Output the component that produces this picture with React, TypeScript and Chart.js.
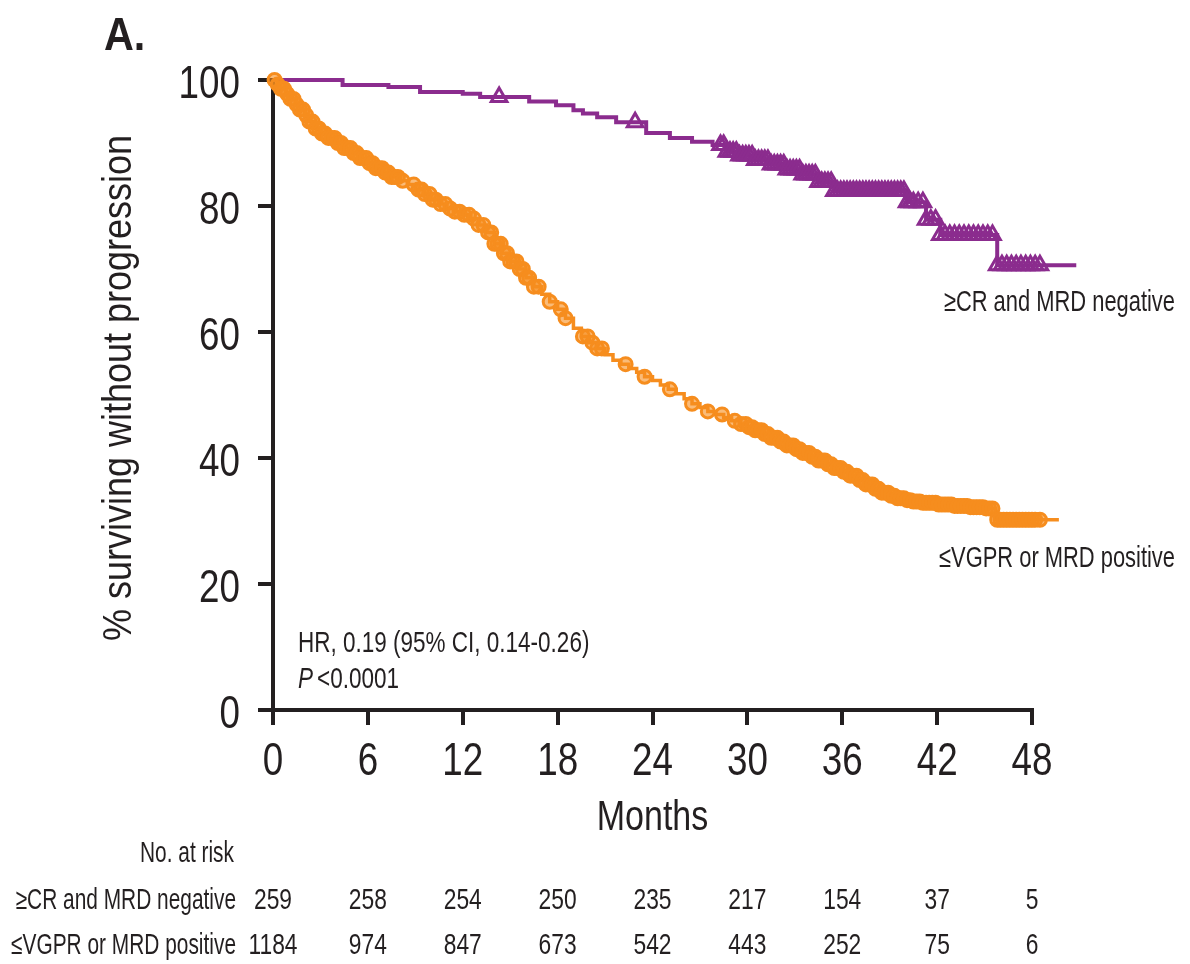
import React, { useEffect, useRef } from 'react';
import { Chart, registerables } from 'chart.js';

Chart.register(...registerables);

const FONT = "'Liberation Sans', Arial, sans-serif";
const INK = '#231f20';
const ORANGE = '#f68d1e';
const PURPLE = '#8b2c8e';

// Months shown on the x axis and used for the number-at-risk table
const monthTicks = [0, 6, 12, 18, 24, 30, 36, 42, 48];

// Number at risk per group
const riskGroupLabels = ['\u2265CR and MRD negative', '\u2264VGPR or MRD positive'];
const atRiskNegative = [259, 258, 254, 250, 235, 217, 154, 37, 5];
const atRiskPositive = [1184, 974, 847, 673, 542, 443, 252, 75, 6];

// Kaplan-Meier step points: >=CR and MRD negative
const negMonths = [0, 4.4, 7.3, 9.3, 12.0, 13.1, 16.2, 17.9, 19.0, 19.6, 20.5, 21.7, 23.6, 25.1, 26.5, 27.8, 28.7, 29.5, 30.5, 31.5, 32.5, 33.5, 34.5, 35.5, 40.1, 41.3, 42.2, 45.8, 50.8];
const negSurvival = [100, 99.2, 98.9, 98.1, 97.8, 97.3, 96.6, 96.0, 95.2, 94.7, 94.1, 93.3, 91.6, 90.8, 90.2, 89.7, 88.6, 88.0, 87.3, 86.6, 85.8, 85.0, 83.8, 82.4, 80.6, 77.8, 75.4, 70.6, 70.6];
// Censoring times (triangles)
const negCensored = [14.3, 22.9, 28.3, 28.5, 28.7, 28.9, 29.1, 29.3, 29.5, 29.7, 29.9, 30.1, 30.3, 30.5,
  30.7, 30.9, 31.1, 31.3, 31.5, 31.7, 31.9, 32.1, 32.3, 32.5, 32.7, 32.9, 33.1, 33.3, 33.5, 33.7,
  33.9, 34.1, 34.3, 34.5, 34.7, 34.9, 35.1, 35.3, 35.5, 35.7, 35.9, 36.1, 36.3, 36.5, 36.7, 36.9,
  37.1, 37.3, 37.5, 37.7, 37.9, 38.1, 38.3, 38.5, 38.7, 38.9, 39.1, 39.3, 39.5, 39.7, 39.9, 40.1,
  40.3, 40.5, 40.8, 41.1, 41.3, 41.6, 41.9, 42.2, 42.5, 42.8, 43.1, 43.4, 43.7, 44.0, 44.3, 44.6,
  44.9, 45.2, 45.5, 45.8, 46.1, 46.4, 46.7, 47.0, 47.3, 47.6, 47.9, 48.2, 48.5, 49.7, 50.0, 50.3,
  50.6, 50.8];

// Kaplan-Meier step points: <=VGPR or MRD positive
const posMonths = [0, 0.25, 0.5, 0.8, 1.1, 1.4, 1.7, 2.0, 2.3, 2.6,
  3.0, 3.5, 4.0, 4.5, 5.0, 5.5, 6.0, 6.5, 7.0, 7.5, 8.0, 8.5, 9.0, 9.5, 10.0,
  10.5, 11.0, 11.5, 12.0, 12.5, 13.0, 13.5, 14.0, 14.5, 15.0,
  15.5, 16.0, 16.5, 17.0, 17.5, 18.0, 18.5, 19.0, 19.5, 20.0,
  20.5, 21.0, 21.5, 22.0, 22.5, 23.0, 23.5, 24.0, 24.5, 25.0,
  25.5, 26.0, 26.5, 27.0, 27.5, 28.0, 28.5, 29.0, 29.5, 30.0,
  30.5, 31.0, 31.5, 32.0, 32.5, 33.0, 33.5, 34.0, 34.5, 35.0,
  35.5, 36.0, 36.5, 37.0, 37.5, 38.0, 38.5, 39.0, 39.5, 40.0,
  40.5, 41.0, 42.0, 43.0, 44.0, 45.0, 45.7, 49.7];
const posSurvival = [100, 99.3, 98.6, 97.8, 97.0, 96.1, 95.3, 94.4, 93.4, 92.3,
  91.5, 90.8, 90.0, 89.2, 88.4, 87.6, 86.8, 86.0, 85.3, 84.6, 84.0, 83.4, 82.6, 81.9, 81.0,
  80.3, 79.6, 79.1, 78.6, 78.0, 77.0, 75.8, 74.0, 72.5, 71.2,
  70.0, 68.6, 67.2, 66.0, 64.8, 63.6, 62.2, 60.6, 59.3, 58.3,
  57.4, 56.4, 55.5, 54.9, 54.2, 53.6, 52.9, 52.3, 51.6, 50.9,
  50.2, 49.4, 48.6, 48.0, 47.4, 46.9, 46.4, 45.9, 45.4, 44.9,
  44.4, 43.8, 43.2, 42.6, 42.0, 41.4, 40.8, 40.2, 39.6, 39.0,
  38.4, 37.8, 37.2, 36.5, 35.8, 35.1, 34.5, 34.0, 33.6, 33.3,
  33.1, 32.9, 32.6, 32.4, 32.2, 32.0, 30.2, 30.2];
// Censoring times (circles)
const posCensored = [0.1, 0.3, 0.5, 0.7, 0.9, 1.1, 1.3, 1.5, 1.7, 1.9, 2.1, 2.3, 2.5, 2.7, 2.9,
  3.1, 3.3, 3.5, 3.7, 3.9, 4.1, 4.3, 4.5, 4.7, 4.9, 5.1, 5.3, 5.5, 5.7, 5.9,
  6.1, 6.3, 6.5, 6.7, 6.9, 7.1, 7.3, 7.5, 7.7, 7.9, 8.2, 8.9, 9.2, 9.4, 9.6, 9.9, 10.1, 10.3, 10.6,
  10.9, 11.2, 11.5, 11.8, 12.1, 12.4, 12.7, 13.0, 13.3, 13.6, 13.8, 14.0, 14.2, 14.4,
  14.6, 14.8, 15.0, 15.2, 15.4, 15.6, 15.8, 16.0, 16.2, 16.5, 16.8, 17.5, 18.2, 18.5,
  19.6, 19.9, 20.2, 20.5, 20.8, 22.3, 23.5, 25.1, 26.5, 27.5, 28.4, 29.2, 29.6, 29.9,
  30.1, 30.3, 30.5, 30.7, 30.9, 31.1, 31.3, 31.5, 31.7, 31.9, 32.1, 32.3, 32.5, 32.7,
  32.9, 33.1, 33.3, 33.5, 33.7, 33.9, 34.1, 34.3, 34.5, 34.7, 34.9, 35.1, 35.3, 35.5,
  35.7, 35.9, 36.1, 36.3, 36.5, 36.7, 36.9, 37.1, 37.3, 37.5, 37.7, 37.9, 38.1, 38.3,
  38.5, 38.7, 38.9, 39.1, 39.3, 39.5, 39.7, 39.9, 40.1, 40.3, 40.5, 40.7, 40.9, 41.1,
  41.3, 41.5, 41.7, 41.9, 42.1, 42.3, 42.5, 42.7, 42.9, 43.1, 43.3, 43.5, 43.7, 43.9,
  44.1, 44.3, 44.5, 44.7, 44.9, 45.1, 45.3, 45.5, 45.8, 46.0, 46.2, 46.4, 46.6, 46.8,
  47.0, 47.2, 47.4, 47.6, 47.8, 48.0, 48.2, 48.5, 48.8, 49.1, 49.4, 49.7];

// Survival of a step curve at time t (value of the last step at or before t)
function survivalAt(months: number[], surv: number[], t: number): number {
  let s = surv[0];
  for (let i = 0; i < months.length; i++) {
    if (months[i] <= t) s = surv[i];
    else break;
  }
  return s;
}

const steps = (months: number[], surv: number[]) => months.map((m, i) => ({ x: m, y: surv[i] }));
const censorPoints = (times: number[], months: number[], surv: number[]) =>
  times.map((t) => ({ x: t, y: survivalAt(months, surv, t) }));

// Draws text squeezed horizontally, imitating a condensed typeface
function condensedText(
  ctx: CanvasRenderingContext2D,
  text: string,
  x: number,
  y: number,
  opts: { size: number; sx: number; align?: CanvasTextAlign; weight?: string; style?: string; rotate?: number; baseline?: CanvasTextBaseline },
): number {
  ctx.save();
  ctx.translate(x, y);
  if (opts.rotate) ctx.rotate(opts.rotate);
  ctx.scale(opts.sx, 1);
  ctx.font = `${opts.style || 'normal'} ${opts.weight || 'normal'} ${opts.size}px ${FONT}`;
  ctx.textAlign = opts.align || 'left';
  ctx.textBaseline = opts.baseline || 'alphabetic';
  ctx.fillText(text, 0, 0);
  const w = ctx.measureText(text).width * opts.sx;
  ctx.restore();
  return w;
}

const textLayer = {
  id: 'kmText',
  afterDraw(chart: any) {
    const { ctx, chartArea, scales } = chart;
    const x = scales.x;
    const y = scales.y;
    ctx.save();
    ctx.fillStyle = INK;

    // tick labels
    y.ticks.forEach((t: any) => {
      condensedText(ctx, String(t.value), chartArea.left - 33, y.getPixelForValue(t.value) + 18, { size: 46, sx: 0.8, align: 'right' });
    });
    x.ticks.forEach((t: any) => {
      condensedText(ctx, String(t.value), x.getPixelForValue(t.value), chartArea.bottom + 65, { size: 46, sx: 0.8, align: 'center' });
    });

    // axis titles
    condensedText(ctx, '% surviving without progression', 120, (chartArea.top + chartArea.bottom) / 2 - 7, {
      size: 40, sx: 0.9, align: 'center', baseline: 'middle', rotate: -Math.PI / 2,
    });
    condensedText(ctx, 'Months', (chartArea.left + chartArea.right) / 2, chartArea.bottom + 120, { size: 42, sx: 0.81, align: 'center' });

    // panel letter
    condensedText(ctx, 'A.', 104, 50, { size: 47, sx: 0.88, weight: 'bold' });

    // hazard ratio
    const statX = chartArea.left + 25;
    condensedText(ctx, 'HR, 0.19 (95% CI, 0.14-0.26)', statX, 652, { size: 30, sx: 0.75 });
    const pw = condensedText(ctx, 'P', statX, 688, { size: 30, sx: 0.75, style: 'italic' });
    condensedText(ctx, '<0.0001', statX + pw + 4, 688, { size: 30, sx: 0.75 });

    // curve labels
    condensedText(ctx, '\u2265CR and MRD negative', 1175, 311, { size: 30, sx: 0.73, align: 'right' });
    condensedText(ctx, '\u2264VGPR or MRD positive', 1175, 567, { size: 30, sx: 0.73, align: 'right' });

    // number at risk table
    condensedText(ctx, 'No. at risk', 234, 862, { size: 29, sx: 0.72, align: 'right' });
    condensedText(ctx, riskGroupLabels[0], 236, 909, { size: 29, sx: 0.72, align: 'right' });
    condensedText(ctx, riskGroupLabels[1], 236, 954, { size: 29, sx: 0.72, align: 'right' });
    monthTicks.forEach((m, i) => {
      const px = x.getPixelForValue(m);
      condensedText(ctx, String(atRiskNegative[i]), px, 909, { size: 30, sx: 0.76, align: 'center' });
      condensedText(ctx, String(atRiskPositive[i]), px, 954, { size: 30, sx: 0.76, align: 'center' });
    });
    ctx.restore();
  },
};

export default function App() {
  const canvasRef = useRef<HTMLCanvasElement | null>(null);

  useEffect(() => {
    const canvas = canvasRef.current;
    if (!canvas) return;
    const chart = new Chart(canvas, {
      type: 'line',
      data: {
        datasets: [
          {
            label: 'posCensored',
            data: censorPoints(posCensored, posMonths, posSurvival),
            showLine: false,
            pointStyle: 'circle',
            pointRadius: 6.5,
            pointBorderWidth: 3,
            pointBorderColor: ORANGE,
            pointBackgroundColor: 'rgba(246,141,30,0.6)',
            clip: false,
          },
          {
            label: '\u2264VGPR or MRD positive',
            data: steps(posMonths, posSurvival),
            stepped: true,
            borderColor: ORANGE,
            borderWidth: 3.5,
            pointRadius: 0,
            clip: false,
          },
          {
            label: 'negCensored',
            data: censorPoints(negCensored, negMonths, negSurvival),
            showLine: false,
            pointStyle: 'triangle',
            pointRadius: 9,
            pointBorderWidth: 3,
            pointBorderColor: PURPLE,
            pointBackgroundColor: 'rgba(255,255,255,0)',
            clip: false,
          },
          {
            label: '\u2265CR and MRD negative',
            data: steps(negMonths, negSurvival),
            stepped: true,
            borderColor: PURPLE,
            borderWidth: 4,
            pointRadius: 0,
            clip: false,
          },
        ],
      },
      options: {
        responsive: false,
        animation: false,
        devicePixelRatio: 1,
        layout: { padding: { left: 0, top: 80, right: 158, bottom: 114 } },
        plugins: { legend: { display: false }, tooltip: { enabled: false } },
        scales: {
          x: {
            type: 'linear',
            position: 'bottom',
            afterDataLimits(s: any) {
              s.min = 0;
              s.max = 48;
            },
            afterFit(s: any) {
              s.height = 140;
            },
            ticks: { stepSize: 6, autoSkip: false, maxRotation: 0, display: false },
            grid: { drawOnChartArea: false, drawTicks: true, tickLength: 15, lineWidth: 4, color: INK },
            border: { display: true, width: 4, color: INK },
            title: { display: false },
          },
          y: {
            min: 0,
            max: 100,
            afterFit(s: any) {
              s.width = 273;
            },
            ticks: { stepSize: 20, display: false },
            grid: { drawOnChartArea: false, drawTicks: true, tickLength: 15, lineWidth: 4, color: INK },
            border: { display: true, width: 4, color: INK },
            title: { display: false },
          },
        },
      },
      plugins: [textLayer],
    } as any);
    return () => chart.destroy();
  }, []);

  return (
    <div style={{ position: 'absolute', left: 0, top: 0, width: 1190, height: 964, background: '#fff' }}>
      <canvas ref={canvasRef} width={1190} height={964} style={{ display: 'block' }} />
    </div>
  );
}
